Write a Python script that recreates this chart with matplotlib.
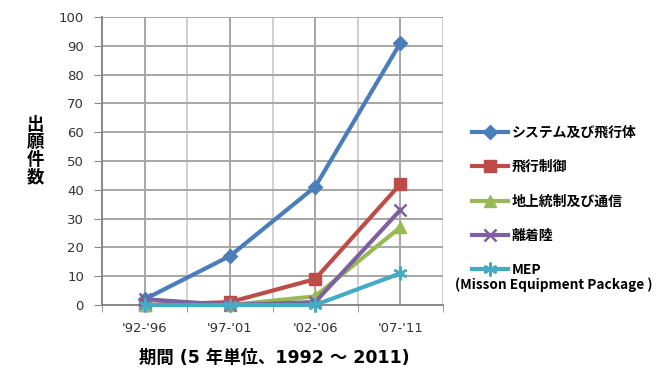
import matplotlib
matplotlib.use("Agg")
import matplotlib.pyplot as plt
from matplotlib.ticker import MultipleLocator

plt.rcParams['font.family'] = ['Noto Sans CJK JP', 'DejaVu Sans']
LATIN = ['DejaVu Sans', 'Noto Sans CJK JP']

periods = ["'92-'96", "'97-'01", "'02-'06", "'07-'11"]
labels = ["システム及び飛行体", "飛行制御", "地上統制及び通信", "離着陸", "MEP"]
sys_vals = [2, 17, 41, 91]
ctrl_vals = [0, 1, 9, 42]
comm_vals = [0, 0, 3, 27]
land_vals = [2, 0, 1, 33]
mep_vals = [0, 0, 0, 11]

series = [sys_vals, ctrl_vals, comm_vals, land_vals, mep_vals]
colors = ["#4a7ebb", "#be4b48", "#98b954", "#7d60a0", "#46aac5"]
markers = ["D", "s", "^", "x", (6, 2, 0)]
msizes = [7, 9, 8, 9, 10]

fig = plt.figure(figsize=(6.62, 3.79), dpi=100)
ax = fig.add_axes([102 / 662, 1 - 305 / 379, 341 / 662, 288 / 379])

x = list(range(len(periods)))
for vals, lab, c, m, ms in zip(series, labels, colors, markers, msizes):
    ax.plot(x, vals, color=c, lw=3, marker=m, markersize=ms,
            markeredgewidth=1.8 if m in ("x", (6, 2, 0)) else 1,
            markeredgecolor=c, label=lab, zorder=3, clip_on=False)

ax.set_xlim(-0.5, 3.5)
ax.set_ylim(0, 100)
ax.yaxis.set_major_locator(MultipleLocator(10))
ax.set_xticks(x)
ax.set_xticklabels(periods, family=LATIN)
ax.set_xticks([-0.5, 0.5, 1.5, 2.5, 3.5], minor=True)
for t in ax.get_yticklabels():
    t.set_family(LATIN)
ax.grid(True, which="major", color="#a6a6a6", lw=1.4)
ax.grid(True, which="minor", axis="x", color="#c8c8c8", lw=1.2)
ax.tick_params(axis="x", which="major", length=0, pad=12, labelsize=9.5, colors="#333333")
ax.tick_params(axis="x", which="minor", length=5, color="#888888")
ax.tick_params(axis="y", length=6, pad=7, color="#888888", labelsize=9.5, labelcolor="#333333")
for s in ["top", "right"]:
    ax.spines[s].set_visible(False)
ax.spines["left"].set_color("#888888")
ax.spines["bottom"].set_color("#888888")
ax.spines["left"].set_linewidth(1.4)
ax.spines["bottom"].set_linewidth(1.4)

fig.text(35 / 662, 1 - 151 / 379, "出\n願\n件\n数", ha="center", va="center",
         fontsize=12.5, fontweight="bold", linespacing=0.95)
fig.text(274 / 662, 1 - 358 / 379, "期間 (5 年単位、1992 ～ 2011)", ha="center",
         va="center", fontsize=12.5, fontweight="bold", family=LATIN)

leg = ax.legend(loc="upper left", bbox_to_anchor=(466 / 662, 1 - 120 / 379),
                bbox_transform=fig.transFigure, frameon=False, handlelength=2.6,
                labelspacing=1.47, handletextpad=0.3, borderaxespad=0,
                prop={"size": 10, "weight": "bold"})
fig.text(455 / 662, 1 - 285 / 379, "(Misson Equipment Package )", ha="left",
         va="center", fontsize=9.8, fontweight="bold")

fig.savefig("out.png", dpi=100)
